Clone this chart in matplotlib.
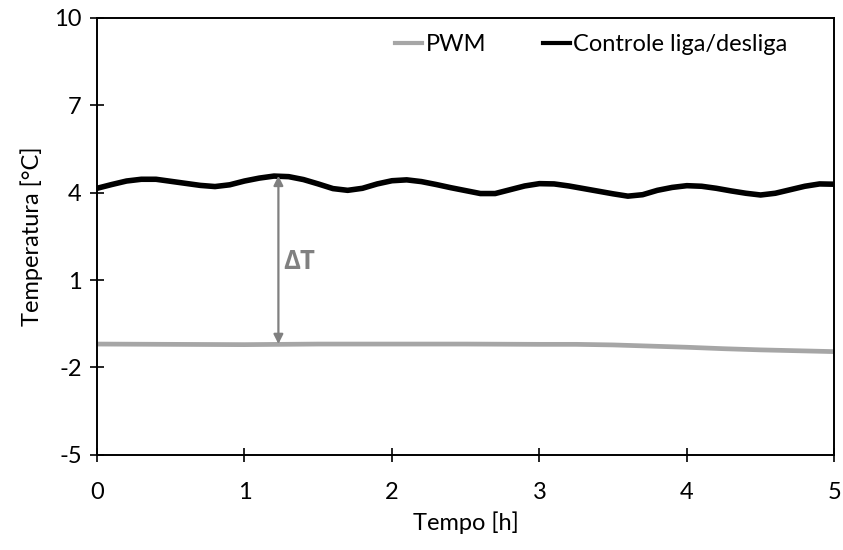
import matplotlib
matplotlib.use('Agg')
import matplotlib.pyplot as plt

# tempo [h] e temperaturas
t_onoff = [0.0, 0.1, 0.2, 0.3, 0.4, 0.5, 0.6, 0.7, 0.8, 0.9,
           1.0, 1.1, 1.2, 1.3, 1.4, 1.5, 1.6, 1.7, 1.8, 1.9,
           2.0, 2.1, 2.2, 2.3, 2.4, 2.5, 2.6, 2.7, 2.8, 2.9,
           3.0, 3.1, 3.2, 3.3, 3.4, 3.5, 3.6, 3.7, 3.8, 3.9,
           4.0, 4.1, 4.2, 4.3, 4.4, 4.5, 4.6, 4.7, 4.8, 4.9, 5.0]
temp_onoff = [4.15, 4.28, 4.40, 4.46, 4.46, 4.39, 4.32, 4.25, 4.21, 4.27,
              4.40, 4.50, 4.57, 4.55, 4.45, 4.30, 4.14, 4.08, 4.15, 4.30,
              4.41, 4.44, 4.38, 4.28, 4.17, 4.07, 3.97, 3.97, 4.10, 4.23,
              4.31, 4.30, 4.23, 4.14, 4.05, 3.96, 3.88, 3.93, 4.08, 4.18,
              4.24, 4.22, 4.15, 4.06, 3.98, 3.92, 3.98, 4.10, 4.22, 4.30, 4.29]

t_pwm = [0.0, 0.5, 1.0, 1.5, 2.0, 2.5, 3.0, 3.25, 3.5, 3.75, 4.0, 4.25, 4.5, 4.75, 5.0]
temp_pwm = [-1.20, -1.21, -1.22, -1.20, -1.20, -1.20, -1.21, -1.21, -1.23,
            -1.27, -1.31, -1.36, -1.40, -1.43, -1.46]

# posicao da seta do delta T
dt_x = 1.23
dt_low = -1.20
dt_high = 4.58

plt.rcParams['font.family'] = ['Lato', 'DejaVu Sans']
plt.rcParams['axes.unicode_minus'] = False

fig = plt.figure(figsize=(8.43, 5.5), dpi=100)
ax = fig.add_axes([0.1151, 0.1733, 0.9897 - 0.1151, 0.9673 - 0.1733])

ax.plot(t_pwm, temp_pwm, color='#a6a6a6', lw=3.4, label='PWM',
        solid_joinstyle='round')
ax.plot(t_onoff, temp_onoff, color='black', lw=4.0, label='Controle liga/desliga',
        solid_joinstyle='round')

ax.annotate('', xy=(dt_x, dt_high), xytext=(dt_x, dt_low),
            arrowprops=dict(arrowstyle='<|-|>', color='#808080', lw=1.6,
                            mutation_scale=14, shrinkA=0, shrinkB=0))
ax.text(dt_x + 0.035, 1.62, 'ΔT', color='#808080', family='Open Sans',
        fontsize=18.5, fontweight='bold', ha='left', va='center')

ax.set_xlim(0, 5)
ax.set_ylim(-5, 10)
ax.set_xticks([0, 1, 2, 3, 4, 5])
ax.set_yticks([-5, -2, 1, 4, 7, 10])
ax.tick_params(direction='inout', length=10, width=1.2, labelsize=17)
ax.tick_params(axis='x', pad=15)
ax.tick_params(axis='y', pad=6)
for s in ax.spines.values():
    s.set_linewidth(1.4)

ax.set_xlabel('Tempo [h]', fontsize=17, labelpad=6)
ax.set_ylabel('Temperatura [°C]', fontsize=17, labelpad=8)

leg = ax.legend(loc='upper left', bbox_to_anchor=(0.375, 1.012), ncol=2, frameon=False,
                fontsize=17, handlelength=1.15, handletextpad=0.15, columnspacing=2.4)
for h in leg.get_lines():
    h.set_linewidth(3)

fig.savefig('out.png', dpi=100)
